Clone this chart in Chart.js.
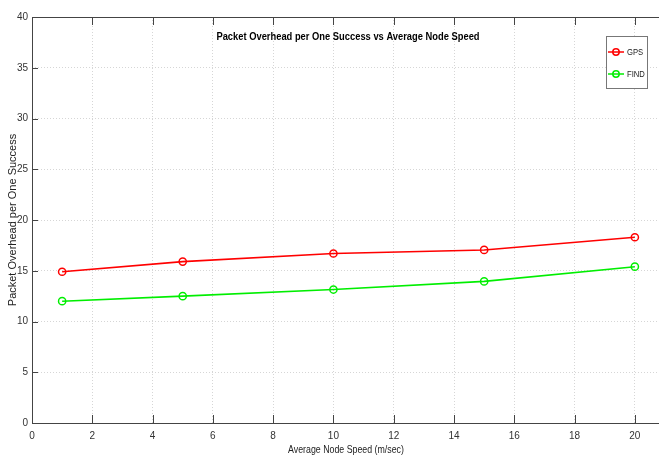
<!DOCTYPE html>
<html>
<head>
<meta charset="utf-8">
<script src="https://cdn.jsdelivr.net/npm/chart.js@4/dist/chart.umd.min.js"></script>
<style>
  html, body { margin: 0; padding: 0; background: #fff; overflow: hidden; }
  #wrap { width: 659px; height: 456px; overflow: hidden; }
</style>
</head>
<body>
<div id="wrap"><canvas id="c" width="672" height="456"></canvas></div>
<script>
// Average node speed (m/sec) sampled in the simulation
const speeds = [1, 5, 10, 15, 20];
// Packet overhead per one successful delivery
const gpsOverhead = [14.9, 15.9, 16.7, 17.05, 18.3];
const findOverhead = [12.0, 12.5, 13.15, 13.95, 15.4];
// Axis tick values
const xTicks = [0, 2, 4, 6, 8, 10, 12, 14, 16, 18, 20];
const yTicks = [0, 5, 10, 15, 20, 25, 30, 35, 40];

const seriesNames = ['GPS', 'FIND'];
const seriesColors = ['#ff0000', '#00ee00'];
const chartTitle = 'Packet Overhead per One Success vs Average Node Speed';
const xTitle = 'Average Node Speed (m/sec)';
const yTitle = 'Packet Overhead per One Success';

const sans = '"Liberation Sans", Arial, sans-serif';
const axisColor = '#444';

const toPoints = ys => speeds.map((s, i) => ({ x: s, y: ys[i] }));

// Draws text squeezed horizontally around (x, y)
function squeezed(ctx, text, x, y, sx) {
  ctx.save();
  ctx.translate(x, y);
  ctx.scale(sx, 1);
  ctx.fillText(text, 0, 0);
  ctx.restore();
}

// Frame, inward tick marks, titles and boxed legend
const framePlugin = {
  id: 'frame',
  afterDraw(chart) {
    const { ctx, chartArea: a, scales } = chart;
    ctx.save();
    ctx.strokeStyle = axisColor;
    ctx.lineWidth = 1;
    ctx.setLineDash([]);
    ctx.strokeRect(a.left + 0.5, a.top + 0.5, a.right - a.left, a.bottom - a.top);
    ctx.beginPath();
    xTicks.forEach(v => {
      const px = Math.round(scales.x.getPixelForValue(v)) + 0.5;
      ctx.moveTo(px, a.bottom); ctx.lineTo(px, a.bottom - 8);
      ctx.moveTo(px, a.top); ctx.lineTo(px, a.top + 8);
    });
    yTicks.forEach(v => {
      const py = Math.round(scales.y.getPixelForValue(v)) + 0.5;
      ctx.moveTo(a.left, py); ctx.lineTo(a.left + 6, py);
      ctx.moveTo(a.right, py); ctx.lineTo(a.right - 6, py);
    });
    ctx.stroke();

    // chart title
    ctx.fillStyle = '#000';
    ctx.textAlign = 'center';
    ctx.textBaseline = 'middle';
    ctx.font = 'bold 11px ' + sans;
    squeezed(ctx, chartTitle, 348, 37, 0.85);

    // x axis title
    ctx.fillStyle = '#222';
    ctx.font = '11px ' + sans;
    squeezed(ctx, xTitle, 346, 450, 0.8);

    // y axis title
    ctx.save();
    ctx.translate(13, (a.top + a.bottom) / 2);
    ctx.rotate(-Math.PI / 2);
    ctx.fillText(yTitle, 0, 0);
    ctx.restore();

    // legend box
    const bx = 606, by = 36, bw = 41, bh = 52;
    ctx.fillStyle = '#fff';
    ctx.fillRect(bx, by, bw, bh);
    ctx.strokeStyle = '#777';
    ctx.strokeRect(bx + 0.5, by + 0.5, bw, bh);
    ctx.font = '9px ' + sans;
    ctx.textAlign = 'left';
    seriesNames.forEach((name, i) => {
      const y = 52 + i * 22;
      ctx.strokeStyle = seriesColors[i];
      ctx.lineWidth = 1.5;
      ctx.beginPath();
      ctx.moveTo(608, y); ctx.lineTo(624, y);
      ctx.stroke();
      ctx.beginPath();
      ctx.arc(616, y, 3.2, 0, Math.PI * 2);
      ctx.stroke();
      ctx.fillStyle = '#222';
      squeezed(ctx, name, 627, y + 0.5, 0.85);
    });
    ctx.restore();
  }
};

const makeSet = (label, ys, color) => ({
  label,
  data: toPoints(ys),
  showLine: true,
  borderColor: color,
  borderWidth: 1.6,
  pointStyle: 'circle',
  pointRadius: 3.6,
  pointBorderWidth: 1.5,
  pointBorderColor: color,
  pointBackgroundColor: 'rgba(0,0,0,0)',
  tension: 0
});

new Chart(document.getElementById('c'), {
  type: 'scatter',
  data: {
    datasets: [
      makeSet(seriesNames[0], gpsOverhead, seriesColors[0]),
      makeSet(seriesNames[1], findOverhead, seriesColors[1])
    ]
  },
  options: {
    responsive: false,
    animation: false,
    events: [],
    layout: { padding: { top: 17, right: 7, left: 0, bottom: 0 } },
    plugins: { legend: { display: false }, tooltip: { enabled: false }, title: { display: false } },
    scales: {
      x: {
        type: 'linear',
        min: 0,
        max: 21,
        afterBuildTicks: s => { s.ticks = xTicks.map(v => ({ value: v })); },
        afterFit: s => { s.height = 33; },
        grid: { color: '#d6d6d6', drawTicks: false, lineWidth: 1 },
        border: { display: false, dash: [1, 2] },
        ticks: { color: '#333', font: { family: sans, size: 10 }, padding: 7, maxRotation: 0 }
      },
      y: {
        min: 0,
        max: 40,
        afterBuildTicks: s => { s.ticks = yTicks.map(v => ({ value: v })); },
        afterFit: s => { s.width = 32; },
        grid: { color: '#d6d6d6', drawTicks: false, lineWidth: 1 },
        border: { display: false, dash: [1, 2] },
        ticks: { color: '#333', font: { family: sans, size: 10 }, padding: 4 }
      }
    }
  },
  plugins: [framePlugin]
});
</script>
</body>
</html>
